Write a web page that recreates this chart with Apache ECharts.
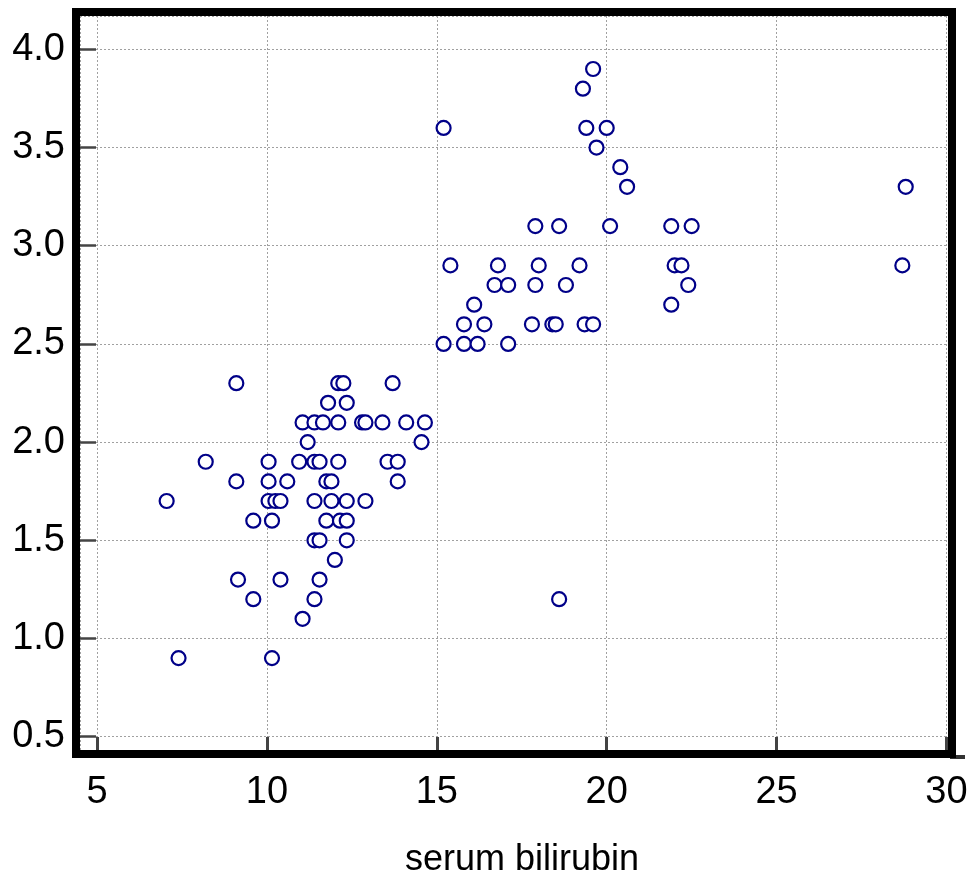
<!DOCTYPE html>
<html>
<head>
<meta charset="utf-8">
<title>serum bilirubin scatter</title>
<script src="https://cdn.jsdelivr.net/npm/echarts@6/dist/echarts.min.js"></script>
<style>
  html, body { margin: 0; padding: 0; background: #fff; }
  #chart { width: 973px; height: 878px; }
</style>
</head>
<body>
<div id="chart"></div>
<script>
// Horizontal variable: serum bilirubin
const serumBilirubin = [
  19.6, 19.3, 15.2, 19.4, 20.0, 19.7, 20.4, 20.6, 28.8,
  17.9, 18.6, 20.1, 21.9, 22.5,
  15.4, 16.8, 18.0, 19.2, 22.0, 22.2, 28.7,
  16.7, 17.1, 17.9, 18.8, 22.4,
  16.1, 21.9,
  15.8, 16.4, 17.8, 18.4, 18.5, 19.35, 19.6,
  15.2, 15.8, 16.2, 17.1,
  9.1, 12.1, 12.25, 13.7,
  11.8, 12.35,
  11.05, 11.4, 11.65, 12.1, 12.8, 12.9, 13.4, 14.1, 14.65,
  11.2, 14.55,
  8.2, 10.05, 10.95, 11.4, 11.55, 12.1, 13.55, 13.85,
  9.1, 10.05, 10.6, 11.75, 11.9, 13.85,
  7.05, 10.05, 10.25, 10.4, 11.4, 11.9, 12.35, 12.9,
  9.6, 10.15, 11.75, 12.15, 12.35,
  11.4, 11.55, 12.35,
  12.0,
  9.15, 10.4, 11.55,
  9.6, 11.4, 18.6,
  11.05,
  7.4, 10.15
];

// Vertical variable, same order as serumBilirubin
const yValues = [
  3.9, 3.8, 3.6, 3.6, 3.6, 3.5, 3.4, 3.3, 3.3,
  3.1, 3.1, 3.1, 3.1, 3.1,
  2.9, 2.9, 2.9, 2.9, 2.9, 2.9, 2.9,
  2.8, 2.8, 2.8, 2.8, 2.8,
  2.7, 2.7,
  2.6, 2.6, 2.6, 2.6, 2.6, 2.6, 2.6,
  2.5, 2.5, 2.5, 2.5,
  2.3, 2.3, 2.3, 2.3,
  2.2, 2.2,
  2.1, 2.1, 2.1, 2.1, 2.1, 2.1, 2.1, 2.1, 2.1,
  2.0, 2.0,
  1.9, 1.9, 1.9, 1.9, 1.9, 1.9, 1.9, 1.9,
  1.8, 1.8, 1.8, 1.8, 1.8, 1.8,
  1.7, 1.7, 1.7, 1.7, 1.7, 1.7, 1.7, 1.7,
  1.6, 1.6, 1.6, 1.6, 1.6,
  1.5, 1.5, 1.5,
  1.4,
  1.3, 1.3, 1.3,
  1.2, 1.2, 1.2,
  1.1,
  0.9, 0.9
];

const xAxisTitle = 'serum bilirubin';

const points = serumBilirubin.map((x, i) => [x, yValues[i]]);

const chart = echarts.init(document.getElementById('chart'), null, { renderer: 'canvas' });

const gridLine = { show: true, lineStyle: { color: '#a0a0a0', width: 1, type: [2, 2] } };
const tickFont = { fontFamily: 'Liberation Sans, Arial, sans-serif', fontSize: 38, color: '#000' };

chart.setOption({
  animation: false,
  backgroundColor: '#fff',
  grid: { left: 80, top: 16, width: 866.5, height: 734, containLabel: false },
  xAxis: {
    type: 'value',
    min: 4.5,
    max: 30,
    splitNumber: 5,
    axisLine: { show: false },
    axisTick: { show: true, inside: true, length: 13, lineStyle: { color: '#444', width: 3 } },
    axisLabel: Object.assign({ margin: 24, showMinLabel: false, formatter: v => String(v) }, tickFont),
    splitLine: gridLine
  },
  yAxis: {
    type: 'value',
    min: 0.432,
    max: 4.17,
    splitNumber: 7,
    axisLine: { show: false },
    axisTick: { show: true, inside: true, length: 16, lineStyle: { color: '#444', width: 2.5 } },
    axisLabel: Object.assign({ margin: 15, showMinLabel: false, showMaxLabel: false,
      formatter: v => v.toFixed(1) }, tickFont),
    splitLine: gridLine
  },
  series: [{
    type: 'scatter',
    data: points,
    symbol: 'circle',
    symbolSize: 14,
    itemStyle: { color: '#ffffff', borderColor: '#000088', borderWidth: 2.2, opacity: 1 },
    emphasis: { disabled: true },
    z: 3
  }],
  graphic: [
    {
      type: 'rect',
      z: 100,
      shape: { x: 76, y: 12, width: 876, height: 742 },
      style: { fill: 'none', stroke: '#000', lineWidth: 8 },
      silent: true
    },
    {
      type: 'line',
      z: 99,
      shape: { x1: 950, y1: 757, x2: 965, y2: 757 },
      style: { stroke: '#333', lineWidth: 4 },
      silent: true
    },
    {
      type: 'text',
      z: 100,
      x: 522,
      y: 860,
      style: {
        text: xAxisTitle,
        fontFamily: 'Liberation Sans, Arial, sans-serif',
        fontSize: 36,
        fill: '#000',
        textAlign: 'center',
        textVerticalAlign: 'middle'
      },
      silent: true
    }
  ]
});
</script>
</body>
</html>
